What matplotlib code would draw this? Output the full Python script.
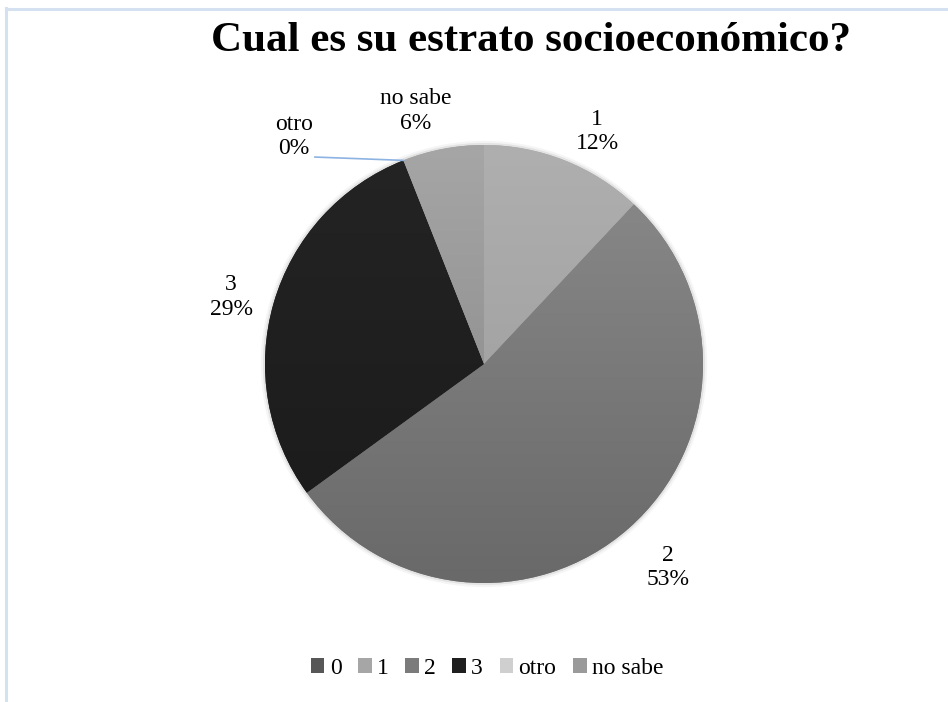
import numpy as np
import matplotlib
matplotlib.use("Agg")
import matplotlib.pyplot as plt
from matplotlib.patches import Patch, Circle
from matplotlib.lines import Line2D
from matplotlib.colors import to_rgb

plt.rcParams["font.family"] = ["Liberation Serif", "DejaVu Serif"]

# data (percent of answers)
categories = ["0", "1", "2", "3", "otro", "no sabe"]
shares = [0, 12, 53, 29, 0, 6]
title = "Cual es su estrato socioeconómico?"

# style: legend colour + vertical gradient (top, bottom) for each slice
legend_colors = ["#575757", "#a6a6a6", "#7b7b7b", "#1f1f1f", "#cfcfcf", "#9a9a9a"]
grad_top = ["#5e5e5e", "#afafaf", "#8b8b8b", "#242424", "#d6d6d6", "#a6a6a6"]
grad_bot = ["#4e4e4e", "#999999", "#696969", "#1a1a1a", "#c4c4c4", "#828282"]

W, H = 948, 702
CX, CY, R = 484, H - 364, 219   # pie centre / radius in pixels

# label placement, in radii from the centre (Excel "best fit" look)
label_pos = {"1": (0.516, 1.06), "2": (0.84, -0.93), "3": (-1.155, 0.306),
             "otro": (-0.868, 1.04), "no sabe": (-0.311, 1.155)}

fig = plt.figure(figsize=(W / 100, H / 100), dpi=100)
ax = fig.add_axes([0, 0, 1, 1])

# faint shadow ring like the Office soft edge
for lw, a in [(6, 0.04), (3, 0.07)]:
    ax.add_patch(Circle((CX, CY), R, fill=False, ec="black", lw=lw, alpha=a, zorder=0))

wedges, _ = ax.pie(shares, startangle=90, counterclock=False, radius=R,
                   center=(CX, CY), colors=legend_colors,
                   wedgeprops=dict(linewidth=0))

# gradient fill clipped to each wedge
for w, top, bot in zip(wedges, grad_top, grad_bot):
    t = np.linspace(0, 1, 256)[:, None]
    img = (1 - t) * np.array(to_rgb(top)) + t * np.array(to_rgb(bot))
    im = ax.imshow(img[:, None, :].repeat(2, axis=1), extent=(CX - R, CX + R, CY - R, CY + R),
                   origin="upper", aspect="auto", zorder=w.get_zorder() + 0.1)
    im.set_clip_path(w)

# data labels
for cat, val in zip(categories, shares):
    if cat not in label_pos:
        continue
    dx, dy = label_pos[cat]
    ax.text(CX + dx * R, CY + dy * R, f"{cat}\n{val}%", ha="center", va="center",
            fontsize=17, linespacing=1.2, zorder=5)

# leader line for the 0% "otro" slice
ang = np.deg2rad(90 - 3.6 * sum(shares[:4]))
ax.plot([CX - 0.772 * R, CX + R * np.cos(ang)], [CY + 0.945 * R, CY + R * np.sin(ang)],
        color="#8db3e2", lw=1.2, zorder=4)

ax.set_xlim(0, W)
ax.set_ylim(0, H)
ax.set_aspect("auto")
ax.axis("off")

fig.text(531 / W, 1 - 41 / H, title, ha="center", va="center",
         fontsize=31, fontweight="bold")

handles = [Patch(facecolor=c, edgecolor="none") for c in legend_colors]
fig.legend(handles, categories, loc="center", bbox_to_anchor=(487 / W, 1 - 668 / H),
           ncol=6, frameon=False, fontsize=17, handlelength=0.58, handleheight=0.58,
           handletextpad=0.22, columnspacing=0.7, borderaxespad=0)

# chart-area border (only top/left edges fall inside the picture)
fig.add_artist(Line2D([5.5 / W, 5.5 / W], [0, 1 - 8 / H], color="#d5e1f1", lw=2.2))
fig.add_artist(Line2D([5.5 / W, 1], [1 - 8.5 / H, 1 - 8.5 / H], color="#d5e1f1", lw=2.2))

fig.savefig("out.png", dpi=100)
